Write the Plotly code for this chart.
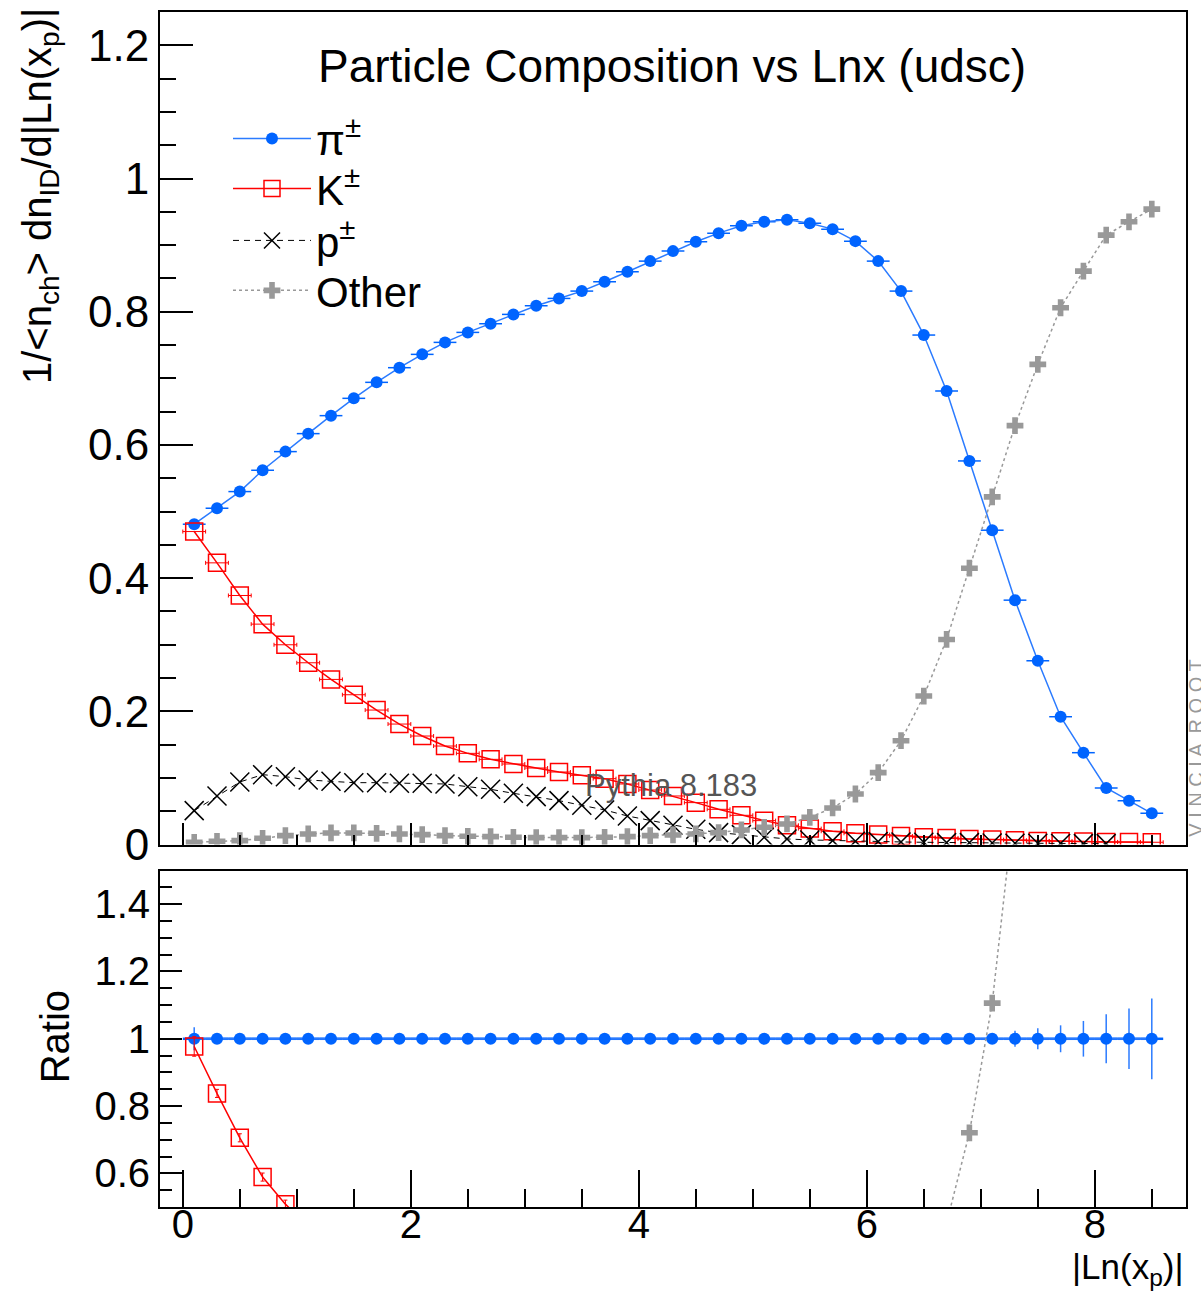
import numpy as np
import plotly.graph_objects as go

# ---------------- data ----------------
x_centers = [0.1, 0.3, 0.5, 0.7, 0.9, 1.1, 1.3, 1.5, 1.7, 1.9,
             2.1, 2.3, 2.5, 2.7, 2.9, 3.1, 3.3, 3.5, 3.7, 3.9,
             4.1, 4.3, 4.5, 4.7, 4.9, 5.1, 5.3, 5.5, 5.7, 5.9,
             6.1, 6.3, 6.5, 6.7, 6.9, 7.1, 7.3, 7.5, 7.7, 7.9,
             8.1, 8.3, 8.5]

pion = [0.481, 0.505, 0.530, 0.562, 0.590, 0.617, 0.644, 0.670, 0.694, 0.716,
        0.736, 0.754, 0.769, 0.782, 0.796, 0.809, 0.820, 0.831, 0.845, 0.860,
        0.876, 0.891, 0.905, 0.918, 0.929, 0.935, 0.938, 0.933, 0.924, 0.906,
        0.876, 0.831, 0.765, 0.681, 0.576, 0.472, 0.367, 0.276, 0.192, 0.138,
        0.085, 0.066, 0.047]

kaon = [0.470, 0.423, 0.374, 0.331, 0.300, 0.273, 0.248, 0.225, 0.202, 0.181,
        0.163, 0.148, 0.137, 0.128, 0.121, 0.115, 0.109, 0.104, 0.099, 0.091,
        0.082, 0.073, 0.063, 0.053, 0.044, 0.036, 0.029, 0.024, 0.020, 0.017,
        0.015, 0.013, 0.011, 0.010, 0.0085, 0.0075, 0.0065, 0.0055, 0.005, 0.0045,
        0.004, 0.004, 0.0035]

proton = [0.051, 0.073, 0.094, 0.105, 0.102, 0.097, 0.095, 0.093, 0.093, 0.092,
          0.092, 0.091, 0.087, 0.083, 0.077, 0.072, 0.066, 0.059, 0.052, 0.043,
          0.036, 0.029, 0.023, 0.018, 0.015, 0.011, 0.0085, 0.007, 0.006, 0.005,
          0.0045, 0.004, 0.0035, 0.003, 0.003, 0.0025, 0.002, 0.002, 0.0018, 0.0015,
          0.0015, None, None]

other = [0.0035, 0.005, 0.006, 0.0095, 0.0135, 0.016, 0.0175, 0.0175, 0.017, 0.016,
         0.015, 0.0135, 0.0125, 0.012, 0.011, 0.0105, 0.0105, 0.0105, 0.011, 0.012,
         0.0135, 0.0145, 0.016, 0.018, 0.022, 0.026, 0.031, 0.041, 0.055, 0.076,
         0.108, 0.156, 0.223, 0.308, 0.415, 0.522, 0.629, 0.721, 0.806, 0.861,
         0.915, 0.935, 0.954]

# ratio uncertainties (w.r.t. pions)
pion_ratio_err = [0.034, 0.006, 0.005, 0.005, 0.005, 0.005, 0.005, 0.005, 0.005, 0.005,
                  0.005, 0.005, 0.005, 0.005, 0.005, 0.005, 0.005, 0.005, 0.005, 0.005,
                  0.005, 0.005, 0.005, 0.005, 0.005, 0.005, 0.005, 0.005, 0.005, 0.005,
                  0.005, 0.005, 0.006, 0.007, 0.009, 0.012, 0.024, 0.031, 0.040, 0.053,
                  0.073, 0.090, 0.120]
kaon_ratio_err = [0.029, 0.012, 0.012, 0.012, 0.012, 0.012, 0.012, 0.012, 0.012, 0.012,
                  0.012, 0.012, 0.012, 0.012, 0.012, 0.012, 0.012, 0.012, 0.012, 0.012,
                  0.012, 0.012, 0.012, 0.012, 0.012, 0.012, 0.012, 0.012, 0.012, 0.012,
                  0.012, 0.012, 0.012, 0.012, 0.012, 0.012, 0.012, 0.012, 0.012, 0.012,
                  0.012, 0.012, 0.012]

bin_half_width = 0.1

# ---------------- derived ratios ----------------
def arr(v):
    return np.array([np.nan if a is None else a for a in v], dtype=float)

pi_a = arr(pion)
r_pion = arr(pion) / pi_a
r_kaon = arr(kaon) / pi_a
r_proton = arr(proton) / pi_a
r_other = arr(other) / pi_a

# ---------------- styles ----------------
FONT = "Liberation Sans, Arial, Helvetica, sans-serif"
BLUE = "#0064FF"
BLUE_LINE = "#2B7BFF"
RED = "#FF0000"
GREY = "#999999"

fig = go.Figure()

# top panel
fig.add_trace(go.Scatter(
    x=x_centers, y=pion, name="π<sup>±</sup>", mode="lines+markers", legend="legend",
    line=dict(color=BLUE_LINE, width=1.5),
    marker=dict(symbol="circle", size=12, color=BLUE),
    error_x=dict(type="constant", value=bin_half_width, color=BLUE, thickness=1.5, width=0),
    xaxis="x", yaxis="y"))
fig.add_trace(go.Scatter(
    x=x_centers, y=kaon, name="K<sup>±</sup>", mode="lines+markers", legend="legend2",
    line=dict(color=RED, width=1.5),
    marker=dict(symbol="square-open", size=17, color=RED, line=dict(width=1.5, color=RED)),
    error_x=dict(type="constant", value=bin_half_width, color=RED, thickness=1, width=2),
    xaxis="x", yaxis="y"))
fig.add_trace(go.Scatter(
    x=x_centers, y=proton, name="p<sup>±</sup>", mode="lines+markers", legend="legend3",
    line=dict(color="black", width=1, dash="6px,5px"),
    marker=dict(symbol="x-thin-open", size=19, color="black", line=dict(width=1.5, color="black")),
    xaxis="x", yaxis="y"))
fig.add_trace(go.Scatter(
    x=x_centers, y=other, name="Other", mode="lines+markers", legend="legend4",
    line=dict(color=GREY, width=1.5, dash="dot"),
    marker=dict(symbol="cross", size=14, color=GREY),
    xaxis="x", yaxis="y"))

# ratio panel
fig.add_trace(go.Scatter(
    x=x_centers, y=r_pion, mode="lines+markers", showlegend=False,
    line=dict(color=BLUE_LINE, width=2),
    marker=dict(symbol="circle", size=12, color=BLUE),
    error_x=dict(type="constant", value=bin_half_width, color=BLUE, thickness=2.5, width=0),
    error_y=dict(type="data", array=pion_ratio_err, color=BLUE_LINE, thickness=1.5, width=0),
    xaxis="x2", yaxis="y2"))
fig.add_trace(go.Scatter(
    x=x_centers, y=r_kaon, mode="lines+markers", showlegend=False,
    line=dict(color=RED, width=1.5),
    marker=dict(symbol="square-open", size=17, color=RED, line=dict(width=1.5, color=RED)),
    error_y=dict(type="data", array=kaon_ratio_err, color=RED, thickness=1, width=2),
    xaxis="x2", yaxis="y2"))
fig.add_trace(go.Scatter(
    x=x_centers, y=r_proton, mode="lines+markers", showlegend=False,
    line=dict(color="black", width=1, dash="6px,5px"),
    marker=dict(symbol="x-thin-open", size=19, color="black", line=dict(width=1.5, color="black")),
    xaxis="x2", yaxis="y2"))
fig.add_trace(go.Scatter(
    x=x_centers, y=r_other, mode="lines+markers", showlegend=False,
    line=dict(color=GREY, width=1.5, dash="dot"),
    marker=dict(symbol="cross", size=14, color=GREY),
    xaxis="x2", yaxis="y2"))

W, H = 1201, 1297
ML, MR, MT, MB = 160, 15, 10, 90
plot_h = H - MT - MB
plot_w = W - ML - MR

def py(pix):  # pixel y -> paper y
    return (H - MB - pix) / plot_h

def px(pix):  # pixel x -> paper x
    return (pix - ML) / plot_w

axis_common = dict(showline=True, mirror=True, linecolor="black", linewidth=2,
                   showgrid=False, zeroline=False, ticks="inside", tickcolor="black")

def legend_at(ypix):
    return dict(x=px(228), y=py(ypix), xanchor="left", yanchor="middle",
                font=dict(size=42, family=FONT, color="black"),
                bgcolor="rgba(0,0,0,0)", borderwidth=0, itemwidth=78)

fig.update_layout(
    width=W, height=H, autosize=False,
    margin=dict(l=ML, r=MR, t=MT, b=MB),
    paper_bgcolor="white", plot_bgcolor="white",
    font=dict(family=FONT, color="black"),
    xaxis=dict(domain=[0, 1], range=[-0.2, 8.8], anchor="y", showticklabels=False,
               tick0=0, dtick=2, ticklen=22, tickwidth=1.5,
               minor=dict(dtick=0.5, ticklen=10, tickwidth=1.5, ticks="inside", tickcolor="black"),
               **axis_common),
    yaxis=dict(domain=[py(844), 1], range=[0, 1.25], anchor="x",
               tick0=0, dtick=0.2, ticklen=33, tickwidth=1.5,
               minor=dict(dtick=0.05, ticklen=16, tickwidth=1.5, ticks="inside", tickcolor="black"),
               tickfont=dict(size=44, family=FONT, color="black"),
               **axis_common),
    xaxis2=dict(domain=[0, 1], range=[-0.2, 8.8], anchor="y2", matches="x",
                tick0=0, dtick=2, ticklen=37, tickwidth=1.5,
                minor=dict(dtick=0.5, ticklen=18, tickwidth=1.5, ticks="inside", tickcolor="black"),
                tickfont=dict(size=40, family=FONT, color="black"),
                ticklabelstandoff=-19,
                **axis_common),
    yaxis2=dict(domain=[0, py(870)], range=[0.5, 1.5], anchor="x2",
                tick0=0, dtick=0.2, ticklen=22, tickwidth=1.5,
                minor=dict(dtick=0.05, ticklen=12, tickwidth=1.5, ticks="inside", tickcolor="black"),
                tickfont=dict(size=40, family=FONT, color="black"),
                **axis_common),
    legend=legend_at(137),
    legend2=legend_at(187),
    legend3=legend_at(239),
    legend4=legend_at(289),
)

annotations = [
    dict(text="Particle Composition vs Lnx (udsc)", x=px(671.5), y=py(64),
         xref="paper", yref="paper", xanchor="center", yanchor="middle",
         showarrow=False, font=dict(size=46, family=FONT, color="black")),
    dict(text="Pythia 8.183", x=px(671), y=py(785),
         xref="paper", yref="paper", xanchor="center", yanchor="middle",
         showarrow=False, font=dict(size=31, family=FONT, color="#555555")),
    dict(text="1/&lt;n<sub>ch</sub>&gt; dn<sub>ID</sub>/d|Ln(x<sub>p</sub>)|",
         x=px(40), y=py(4), xref="paper", yref="paper",
         xanchor="center", yanchor="top", textangle=-90,
         showarrow=False, font=dict(size=40, family=FONT, color="black")),
    dict(text="Ratio", x=px(55), y=py(1037), xref="paper", yref="paper",
         xanchor="center", yanchor="middle", textangle=-90,
         showarrow=False, font=dict(size=40, family=FONT, color="black")),
    dict(text="|Ln(x<sub>p</sub>)|", x=px(1186), y=py(1245), xref="paper", yref="paper",
         xanchor="right", yanchor="top",
         showarrow=False, font=dict(size=35, family=FONT, color="black")),
    dict(text="V I N C I A  R O O T", x=px(1196), y=py(748), xref="paper", yref="paper",
         xanchor="center", yanchor="middle", textangle=-90,
         showarrow=False, font=dict(size=20, family=FONT, color="#999999")),
]
fig.update_layout(annotations=annotations)

fig.write_html("out.html")
